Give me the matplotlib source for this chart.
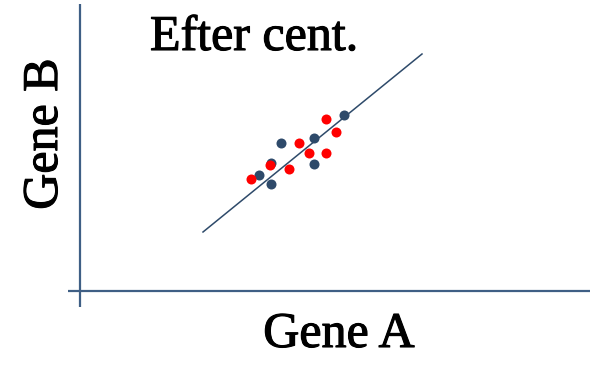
import matplotlib.pyplot as plt
import matplotlib.patheffects as pe

# centred expression values (arbitrary units, axes cross at 0,0)
blue_a = [17.9, 19.1, 19.1, 20.1, 23.4, 23.4, 26.4]
blue_b = [11.6, 10.7, 12.8, 14.8, 15.3, 12.7, 17.6]
red_a = [17.1, 19.0, 20.9, 21.9, 22.9, 24.6, 25.6, 24.6]
red_b = [11.2, 12.6, 12.2, 14.8, 13.8, 17.2, 15.9, 13.8]

# fitted line end points
fit_a = [12.3, 34.2]
fit_b = [5.9, 23.7]

title = 'Efter cent.'
xlabel = 'Gene A'
ylabel = 'Gene B'

dark = '#2E4A6A'
axis_col = '#3F5F85'

fig = plt.figure(figsize=(5.96, 3.69), dpi=100)
ax = fig.add_axes([0, 0, 1, 1])
ax.set_xlim(-8.0, 51.6)
ax.set_ylim(-7.8, 29.1)
ax.axis('off')

# axis cross
ax.plot([0, 0], [-1.6, 28.7], color=axis_col, lw=1.6, solid_capstyle='butt')
ax.plot([-1.2, 51.0], [0, 0], color=axis_col, lw=1.6, solid_capstyle='butt')

ax.plot(fit_a, fit_b, color=dark, lw=1.1)
ax.scatter(blue_a, blue_b, s=52, color=dark, zorder=3, linewidths=0)
ax.scatter(red_a, red_b, s=52, color='#FF0000', zorder=4, linewidths=0)

# slightly heavier strokes for the labels
heavy = [pe.withStroke(linewidth=0.8, foreground='black')]
font = dict(family='Liberation Serif', size=36, color='black', path_effects=heavy)
ax.text(7.0, 24.1, title, ha='left', va='baseline', **font)
ax.text(25.9, -5.6, xlabel, ha='center', va='baseline', **font)
ax.text(-2.3, 15.7, ylabel, ha='center', va='baseline', rotation=90,
        rotation_mode='anchor', **font)

fig.savefig('out.png', dpi=100)
